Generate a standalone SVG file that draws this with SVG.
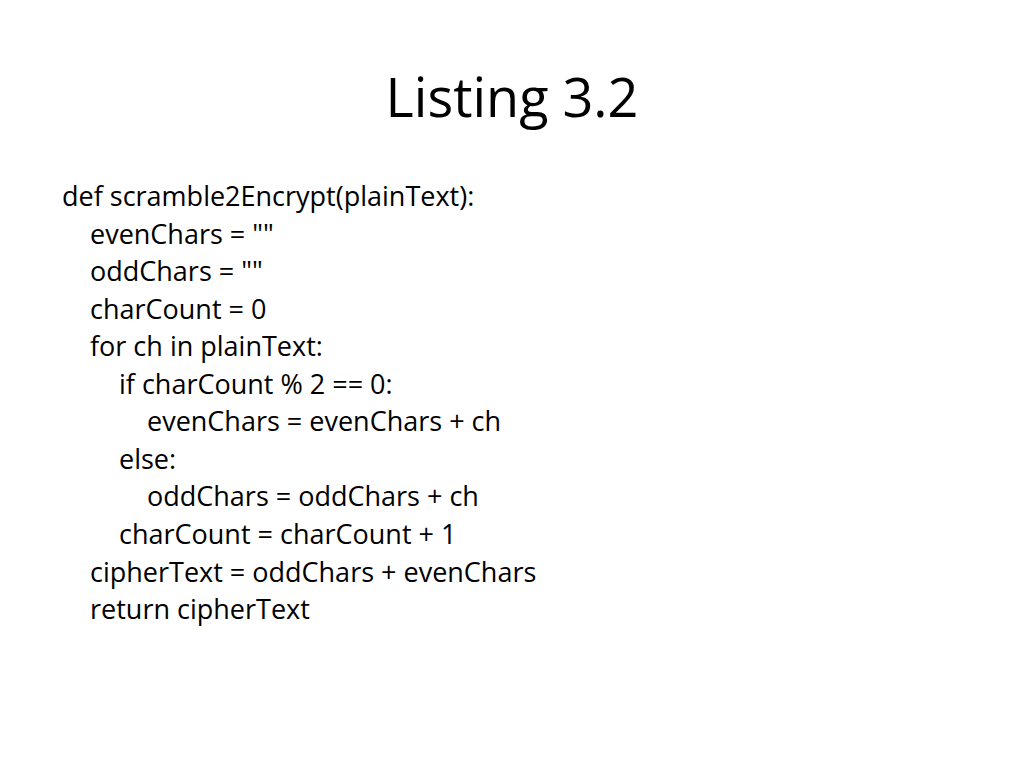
<svg xmlns="http://www.w3.org/2000/svg" width="1024" height="768" viewBox="0 0 1024 768">
<style>
text{font-family:"Open Sans","Liberation Sans",sans-serif;fill:#000}
.c{font-size:27px}
.t{font-size:54px}
</style>
<rect width="1024" height="768" fill="#fff"/>
<text class="t" x="512" y="117" text-anchor="middle">Listing 3.2</text>
<g class="c">
<text x="62" y="206">def scramble2Encrypt(plainText):</text>
<text x="90" y="244">evenChars = ""</text>
<text x="90" y="281">oddChars = ""</text>
<text x="90" y="319">charCount = 0</text>
<text x="90" y="356">for ch in plainText:</text>
<text x="119" y="394">if charCount % 2 == 0:</text>
<text x="147" y="431">evenChars = evenChars + ch</text>
<text x="119" y="469">else:</text>
<text x="147" y="506">oddChars = oddChars + ch</text>
<text x="119" y="544">charCount = charCount + 1</text>
<text x="90" y="582">cipherText = oddChars + evenChars</text>
<text x="90" y="619">return cipherText</text>
</g>
</svg>
